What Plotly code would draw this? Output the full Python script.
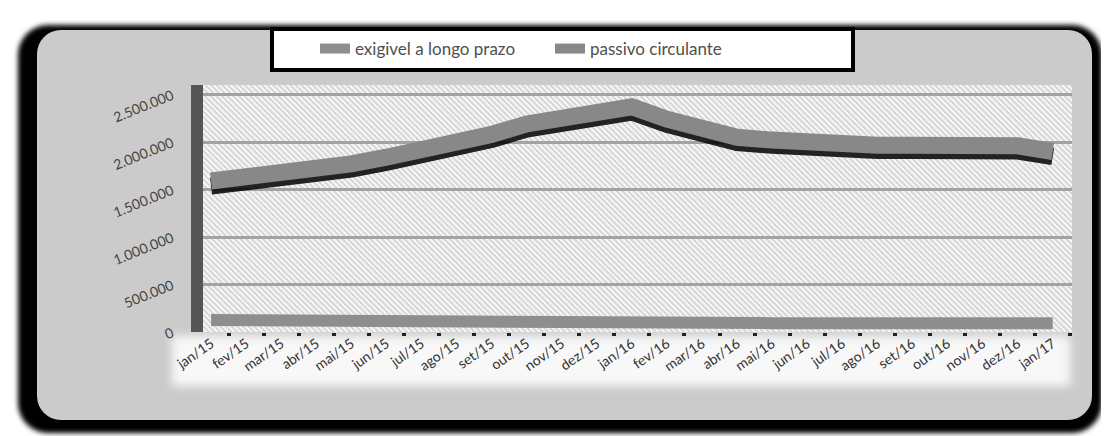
import base64
import plotly.graph_objects as go

# ---------------- data ----------------
months = ["jan/15", "fev/15", "mar/15", "abr/15", "mai/15", "jun/15", "jul/15",
          "ago/15", "set/15", "out/15", "nov/15", "dez/15", "jan/16", "fev/16",
          "mar/16", "abr/16", "mai/16", "jun/16", "jul/16", "ago/16", "set/16",
          "out/16", "nov/16", "dez/16", "jan/17"]
exigivel = [125000, 122000, 118000, 110000, 100000, 96000, 95000, 95000, 94000,
            94000, 94000, 94000, 94000, 94000, 94000, 93000, 93000, 93000, 93000,
            93000, 93000, 93000, 93000, 93000, 93000]
passivo = [1590000, 1630000, 1670000, 1720000, 1770000, 1840000, 1910000,
           1990000, 2080000, 2190000, 2260000, 2320000, 2370000, 2240000,
           2130000, 2050000, 2020000, 1990000, 1970000, 1965000, 1965000,
           1965000, 1965000, 1960000, 1900000]
y_ticks = [0, 500000, 1000000, 1500000, 2000000, 2500000]
series_names = ["exigivel a longo prazo", "passivo circulante"]

# ---------------- geometry / style ----------------
# the page body has an 8px margin; the figure fills the rest of the window
OX, OY = 8, 8
W, H = 1109 - OX, 436 - OY
PX0, PX1, PY0, PY1 = 203, 1072, 85, 332      # plot area in window pixels
Y_MAX = 2600000
SHADOW = 55000
FONT = "Lato"


def px(x):
    return (x - OX) / W


def py(y):
    return 1 - (y - OY) / H


svg = f"""<svg xmlns="http://www.w3.org/2000/svg" width="{W}" height="{H}" viewBox="{OX} {OY} {W} {H}">
<defs>
<filter id="b" x="-5%" y="-5%" width="110%" height="110%"><feGaussianBlur stdDeviation="2.5"/></filter>
<filter id="b2" x="-5%" y="-20%" width="110%" height="140%"><feGaussianBlur stdDeviation="5"/></filter>
<pattern id="h" width="4" height="4" patternUnits="userSpaceOnUse" patternTransform="rotate(-45)">
<rect width="4" height="4" fill="#f7f7f7"/><rect width="2" height="4" fill="#d6d6d6"/>
</pattern>
</defs>
<rect x="0" y="0" width="1109" height="436" fill="#ffffff"/>
<rect x="18" y="25" width="1084" height="408" rx="30" fill="#000" filter="url(#b)"/>
<rect x="37" y="30" width="1055" height="390" rx="24" fill="#cbcbcb"/>
<rect x="172" y="336" width="898" height="50" fill="#f8f8f8" filter="url(#b2)"/>
<rect x="197" y="{PY0}" width="{PX1-197}" height="{PY1-PY0}" fill="url(#h)"/>
<rect x="272" y="29" width="581" height="41" fill="#fff" stroke="#000" stroke-width="4"/>
</svg>"""
bg_uri = "data:image/svg+xml;base64," + base64.b64encode(svg.encode()).decode()

fig = go.Figure()
fig.add_trace(go.Scatter(x=months, y=passivo, yaxis="y", mode="lines",
                         line=dict(color="rgba(0,0,0,0.85)", width=17),
                         showlegend=False, hoverinfo="skip"))
fig.add_trace(go.Scatter(x=months, y=exigivel, yaxis="y2", mode="lines",
                         name=series_names[0],
                         line=dict(color="#8e8e8e", width=12)))
fig.add_trace(go.Scatter(x=months, y=passivo, yaxis="y2", mode="lines",
                         name=series_names[1],
                         line=dict(color="#888888", width=17)))

fig.update_layout(
    width=W, height=H,
    margin=dict(l=0, r=0, t=0, b=0, autoexpand=False),
    paper_bgcolor="white",
    plot_bgcolor="rgba(0,0,0,0)",
    separators=",.",
    images=[dict(source=bg_uri, xref="paper", yref="paper", x=0, y=1,
                 sizex=1, sizey=1, xanchor="left", yanchor="top",
                 sizing="stretch", layer="below")],
    xaxis=dict(domain=[px(PX0), px(PX1)], type="category",
               range=[-0.23, 24.55], tickson="boundaries",
               ticks="outside", ticklen=3, tickwidth=4, tickcolor="#222",
               tickangle=-35, automargin=False,
               tickfont=dict(family=FONT, size=14, color="#333"),
               showgrid=False, showline=False, zeroline=False),
    yaxis=dict(domain=[py(PY1), py(PY0)], automargin=False,
               range=[SHADOW, Y_MAX + SHADOW], visible=False),
    yaxis2=dict(overlaying="y", side="left", range=[0, Y_MAX],
                tickvals=y_ticks, tickformat=",d", tickangle=-22,
                automargin=False,
                tickfont=dict(family=FONT, size=14, color="#444"),
                showgrid=True, gridcolor="#a3a3a3", gridwidth=3,
                showline=True, linewidth=12, linecolor="#555",
                ticks="outside", ticklen=16, tickcolor="rgba(0,0,0,0)",
                zeroline=False),
    legend=dict(orientation="h", x=px(315), y=py(31),
                xanchor="left", yanchor="top", entrywidth=190,
                bgcolor="rgba(0,0,0,0)", borderwidth=0,
                font=dict(family=FONT, size=17, color="#505050")),
    showlegend=True,
)

fig.write_html("out.html")
